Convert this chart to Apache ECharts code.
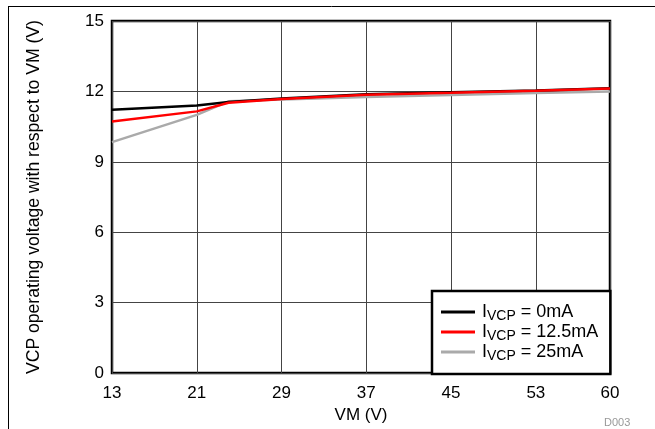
<!DOCTYPE html>
<html>
<head>
<meta charset="utf-8">
<script src="https://cdn.jsdelivr.net/npm/echarts@6/dist/echarts.min.js"></script>
<style>html,body{margin:0;padding:0;background:#fff;}#c{width:655px;height:429px;}</style>
</head>
<body>
<div id="c"></div>
<script>
const vm = [13, 21, 24, 29, 37, 45, 53, 60];
const i0 = [11.22, 11.40, 11.55, 11.70, 11.88, 11.96, 12.04, 12.13];
const i125 = [10.72, 11.15, 11.52, 11.68, 11.86, 11.94, 12.03, 12.12];
const i25 = [9.84, 11.00, 11.58, 11.66, 11.76, 11.85, 11.93, 12.00];
const xTicks = [13, 21, 29, 37, 45, 53, 60];
const yTicks = [0, 3, 6, 9, 12, 15];
const X0 = xTicks[0];
const pts = a => vm.map((v, k) => [v - X0, a[k]]);
const font = 'Liberation Sans, Arial, sans-serif';
const chart = echarts.init(document.getElementById('c'));
const rich = {
  a: {fontSize: 18, fontFamily: font, color: '#000'},
  b: {fontSize: 14, fontFamily: font, color: '#000', padding: [8, 0, 0, 0]}
};
chart.setOption({
  animation: false,
  backgroundColor: '#fff',
  graphic: [
    {type: 'line', shape: {x1: 8, y1: 6.5, x2: 655, y2: 6.5}, style: {stroke: '#000', lineWidth: 1}},
    {type: 'line', shape: {x1: 8.5, y1: 6, x2: 8.5, y2: 429}, style: {stroke: '#000', lineWidth: 1}},
    {type: 'text', left: 604, top: 417, style: {text: 'D003', fontSize: 11, fontFamily: font, fill: '#999'}}
  ],
  grid: {left: 112, top: 21, width: 498, height: 353, show: true, borderColor: '#000', borderWidth: 2.5, backgroundColor: 'transparent'},
  xAxis: {
    type: 'value', min: 0, max: xTicks[xTicks.length - 1] - X0, interval: 8,
    name: 'VM (V)', nameLocation: 'middle', nameGap: 31,
    nameTextStyle: {fontSize: 17, fontFamily: font, color: '#000'},
    axisLine: {show: false}, axisTick: {show: false},
    axisLabel: {fontSize: 17, fontFamily: font, color: '#000', margin: 12, formatter: v => String(v + X0)},
    splitLine: {show: true, lineStyle: {color: '#444', width: 1}}
  },
  yAxis: {
    type: 'value', min: yTicks[0], max: yTicks[yTicks.length - 1], interval: 3,
    name: 'VCP operating voltage with respect to VM (V)', nameLocation: 'middle', nameGap: 69,
    nameTextStyle: {fontSize: 17.6, fontFamily: font, color: '#000'},
    axisLine: {show: false}, axisTick: {show: false},
    axisLabel: {fontSize: 17, fontFamily: font, color: '#000', margin: 8},
    splitLine: {show: true, lineStyle: {color: '#444', width: 1}}
  },
  legend: {
    left: 432, top: 291, orient: 'vertical',
    backgroundColor: '#fff', borderColor: '#000', borderWidth: 2.5,
    padding: [12, 12, 11, 9], itemGap: 0, itemWidth: 34, itemHeight: 3, icon: 'rect',
    data: ['0mA', '12.5mA', '25mA'],
    formatter: n => '{a|I}{b|VCP}{a| = ' + n + '}',
    textStyle: {rich: rich, padding: [0, 0, 0, 2]}
  },
  series: [
    {name: '25mA', type: 'line', data: pts(i25), symbol: 'none', lineStyle: {color: '#aaaaaa', width: 2.5}, itemStyle: {color: '#aaaaaa'}, z: 2},
    {name: '0mA', type: 'line', data: pts(i0), symbol: 'none', lineStyle: {color: '#000', width: 2.5}, itemStyle: {color: '#000'}, z: 3},
    {name: '12.5mA', type: 'line', data: pts(i125), symbol: 'none', lineStyle: {color: '#ff0000', width: 2.5}, itemStyle: {color: '#ff0000'}, z: 4}
  ]
});
</script>
</body>
</html>
